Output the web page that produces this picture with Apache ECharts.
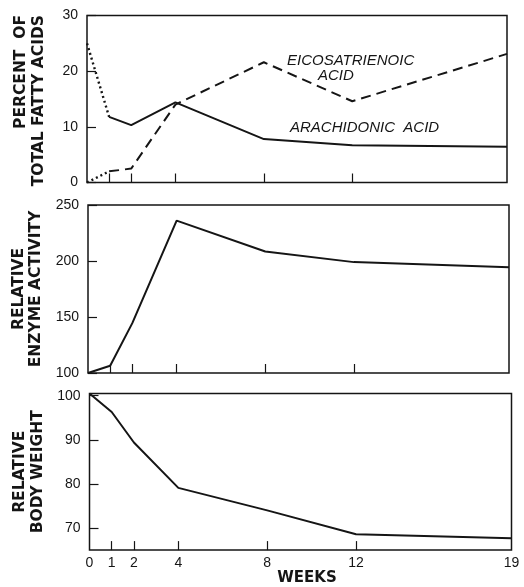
<!DOCTYPE html>
<html><head><meta charset="utf-8">
<script src="https://cdn.jsdelivr.net/npm/echarts@6/dist/echarts.min.js"></script>
<style>html,body{margin:0;padding:0;background:#fff}#c{width:524px;height:587px}</style>
</head><body><div id="c"></div>
<script>
// ---- data ----
const weeks = [0, 1, 2, 4, 8, 12, 19];
const weekTicks = [1, 2, 4, 8, 12];
const weekLabels = [0, 1, 2, 4, 8, 12, 19];
const arachidonic = [25, 11.8, 10.3, 14.4, 7.8, 6.7, 6.4];
const eicosatrienoic = [0, 2.0, 2.5, 14.0, 21.6, 14.6, 23.1];
const enzymeActivity = [100, 106.5, 144.5, 236, 208.5, 199, 194.5];
const bodyWeight = [100.5, 96.3, 89.4, 79.1, 74.0, 68.6, 67.7];
const fattyTicks = [0, 10, 20, 30];
const enzymeTicks = [100, 150, 200, 250];
const weightTicks = [70, 80, 90, 100];

const INK = '#151515';
const FONT = 'Liberation Sans';
const TFONT = 'DejaVu Sans';
const pairs = (xs, ys) => xs.map((x, i) => [x, ys[i]]);

const chart = echarts.init(document.getElementById('c'), null, {renderer: 'canvas'});

function xAxisFor(idx, showLabels) {
  return {
    type: 'value', gridIndex: idx, min: 0, max: 19,
    axisLine: {show: false},
    splitLine: {show: false},
    axisTick: {show: true, inside: true, length: 9, customValues: weekTicks,
      lineStyle: {color: INK, width: 1.2}},
    axisLabel: {show: showLabels, customValues: weekLabels, color: INK,
      fontFamily: FONT, fontSize: 14, margin: 6},
    name: showLabels ? 'WEEKS' : '',
    nameLocation: 'middle', nameGap: 14,
    nameTextStyle: {color: INK, fontFamily: TFONT, fontSize: 15, fontWeight: 'bold',
      padding: [0, 0, 0, 13]}
  };
}
function yAxisFor(idx, min, max, ticks, name) {
  return {
    type: 'value', gridIndex: idx, min: min, max: max,
    axisLine: {show: false},
    splitLine: {show: false},
    axisTick: {show: true, inside: true, length: 9, customValues: ticks,
      lineStyle: {color: INK, width: 1.2}},
    axisLabel: {customValues: ticks, color: INK, fontFamily: FONT, fontSize: 14, margin: 9},
    name: name, nameLocation: 'middle', nameRotate: 90, nameGap: 37,
    nameTextStyle: {color: INK, fontFamily: TFONT, fontSize: 15.5, fontWeight: 'bold',
      lineHeight: 17.5, align: 'center'}
  };
}
const gridStyle = {show: true, borderColor: INK, borderWidth: 1.5, backgroundColor: 'transparent'};
const lineBase = {type: 'line', symbol: 'none', silent: true, animation: false};
const noteFont = 'italic 15px "Liberation Sans"';
const titleFont = 'bold 15.5px "DejaVu Sans"';

chart.setOption({
  backgroundColor: '#fff',
  animation: false,
  grid: [
    Object.assign({left: 87, top: 15.5, width: 420, height: 167}, gridStyle),
    Object.assign({left: 88, top: 205, width: 421, height: 168}, gridStyle),
    Object.assign({left: 89.5, top: 393.5, width: 422, height: 157.5}, gridStyle)
  ],
  xAxis: [xAxisFor(0, false), xAxisFor(1, false), xAxisFor(2, true)],
  yAxis: [
    yAxisFor(0, 0, 30, fattyTicks, ''),
    yAxisFor(1, 100, 250, enzymeTicks, 'RELATIVE\nENZYME ACTIVITY'),
    yAxisFor(2, 65, 100.5, weightTicks, 'RELATIVE\nBODY WEIGHT')
  ],
  series: [
    Object.assign({}, lineBase, {name: 'Arachidonic (wk 0-1)', xAxisIndex: 0, yAxisIndex: 0,
      data: pairs(weeks.slice(0, 2), arachidonic.slice(0, 2)),
      lineStyle: {color: INK, width: 2.4, type: [2, 3]}}),
    Object.assign({}, lineBase, {name: 'Arachidonic acid', xAxisIndex: 0, yAxisIndex: 0,
      data: pairs(weeks.slice(1), arachidonic.slice(1)),
      lineStyle: {color: INK, width: 2}}),
    Object.assign({}, lineBase, {name: 'Eicosatrienoic (wk 0-1)', xAxisIndex: 0, yAxisIndex: 0,
      data: pairs(weeks.slice(0, 2), eicosatrienoic.slice(0, 2)),
      lineStyle: {color: INK, width: 2.4, type: [2, 3]}}),
    Object.assign({}, lineBase, {name: 'Eicosatrienoic acid', xAxisIndex: 0, yAxisIndex: 0,
      data: pairs(weeks.slice(1), eicosatrienoic.slice(1)),
      lineStyle: {color: INK, width: 2, type: [10, 6]}}),
    Object.assign({}, lineBase, {name: 'Relative enzyme activity', xAxisIndex: 1, yAxisIndex: 1,
      data: pairs(weeks, enzymeActivity),
      lineStyle: {color: INK, width: 2}}),
    Object.assign({}, lineBase, {name: 'Relative body weight', xAxisIndex: 2, yAxisIndex: 2,
      data: pairs(weeks, bodyWeight),
      lineStyle: {color: INK, width: 2}})
  ],
  graphic: [
    {type: 'text', x: 21, y: 15, rotation: Math.PI / 2,
      style: {text: 'PERCENT  OF', x: 0, y: 0, align: 'right', verticalAlign: 'middle',
        fill: INK, font: titleFont}},
    {type: 'text', x: 38.5, y: 15, rotation: Math.PI / 2,
      style: {text: 'TOTAL FATTY ACIDS', x: 0, y: 0, align: 'right', verticalAlign: 'middle',
        fill: INK, font: titleFont}},
    {type: 'text', left: 287, top: 53, style: {text: 'EICOSATRIENOIC', fill: INK, font: noteFont}},
    {type: 'text', left: 318, top: 68.5, style: {text: 'ACID', fill: INK, font: noteFont}},
    {type: 'text', left: 290, top: 120, style: {text: 'ARACHIDONIC  ACID', fill: INK, font: noteFont}}
  ]
});
</script>
</body></html>
